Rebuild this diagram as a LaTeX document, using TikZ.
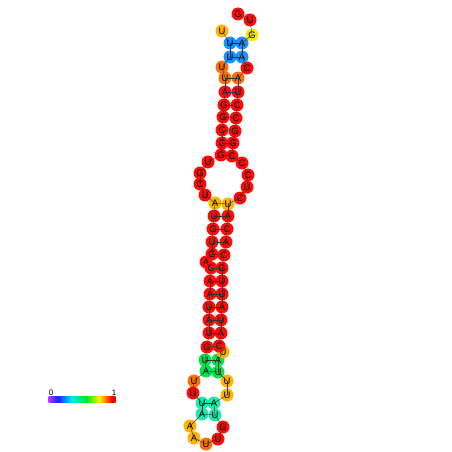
\documentclass[tikz,border=0pt]{standalone}
\usepackage{fontspec}
\setmainfont{Liberation Sans}
\definecolor{cred}{RGB}{255,12,8}
\definecolor{corange}{RGB}{255,112,0}
\definecolor{cyo}{RGB}{255,178,0}
\definecolor{cyellow}{RGB}{248,232,0}
\definecolor{cgreen}{RGB}{0,228,80}
\definecolor{cteal}{RGB}{32,232,168}
\definecolor{cblue}{RGB}{30,144,255}
\definecolor{bpurple}{RGB}{170,60,255}
\definecolor{bblue}{RGB}{30,30,255}
\definecolor{bcyan}{RGB}{0,230,255}
\definecolor{bgreen}{RGB}{0,230,40}
\definecolor{byellow}{RGB}{255,240,0}
\definecolor{bred}{RGB}{255,0,0}
\pgfdeclarehorizontalshading{rainbowbar}{100bp}{color(0bp)=(bpurple); color(25bp)=(bpurple); color(32bp)=(bblue); color(42bp)=(bcyan); color(53bp)=(bgreen); color(63bp)=(byellow); color(72bp)=(bred); color(100bp)=(bred)}
\tikzset{
  base/.style={circle, minimum size=13pt, inner sep=0pt, font=\fontsize{9.5}{10}\selectfont},
  bb/.style={draw=black!80, line width=0.4pt},
  lbl/.style={font=\fontsize{8}{9}\selectfont, inner sep=0pt}
}
\begin{document}
\begin{tikzpicture}[x=1pt,y=-1pt]
\fill[white] (0,0) rectangle (452,452);
\useasboundingbox (0,0) rectangle (452,452);
\foreach \n/\l/\x/\y/\c in {
1/U/222/31/cyo, 2/U/230/43/cblue, 3/U/230/57/cblue, 4/U/222/67/corange, 5/U/225/78/corange,
6/A/225/92/cred, 7/G/224/105/cred, 8/G/223/117/cred, 9/C/222/130/cred, 10/C/222/143/cred,
11/G/221/155/cred, 12/U/208/162/cred, 13/G/200/173/cred, 14/C/200/184/cred, 15/U/205/195/cred,
16/A/215/203/cyo, 17/U/214/216/cred, 18/G/213/229/cred, 19/U/212/242/cred, 20/G/212/254/cred,
21/A/206/262/cred, 22/C/211/268/cred, 23/A/210/281/cred, 24/A/210/294/cred, 25/U/209/307/cred,
26/A/209/320/cred, 27/U/209/333/cred, 28/G/207/347/cred, 29/U/205/360/cgreen, 30/A/206/371/cgreen,
31/U/194/381/corange, 32/U/193/393/cred, 33/U/202/403/cteal, 34/A/202/414/cteal, 35/A/190/426/cyo,
36/A/194/438/cyo, 37/U/206/444/corange, 38/U/218/439/cred, 39/G/223/427/cred, 40/U/215/415/cteal,
41/A/214/403/cteal, 42/U/227/395/cyo, 43/U/227/381/cyo, 44/U/218/372/cgreen, 45/A/218/360/cgreen,
46/U/223/352/cyo, 47/C/219/346/cred, 48/A/221/333/cred, 49/U/221/320/cred, 50/A/222/307/cred,
51/U/222/294/cred, 52/U/222/281/cred, 53/G/222/268/cred, 54/C/224/255/cred, 55/A/226/242/cred,
56/C/227/229/cred, 57/A/228/216/cred, 58/U/228/204/cyo, 59/C/240/198/cred, 60/U/247/187/cred,
61/C/248/175/cred, 62/C/242/163/cred, 63/C/232/156/cred, 64/G/233/143/cred, 65/G/235/131/cred,
66/C/236/118/cred, 67/C/237/105/cred, 68/U/238/92/cred, 69/A/238/78/corange, 70/C/247/68/cred,
71/A/242/57/cblue, 72/A/242/43/cblue, 73/G/252/35/cyellow, 74/U/250/20/cred, 75/G/238/14/cred}
{ \node[base, fill=\c] (n\n) at (\x,\y) {\l}; }
\foreach \a [evaluate=\a as \b using int(\a+1)] in {1,...,74}
{ \draw[bb] (n\a.center) -- (n\b.center); }
\foreach \a/\b in {2/72,3/71,5/69,6/68,7/67,8/66,9/65,10/64,11/63,16/58,17/57,18/56,19/55,20/54,22/53,23/52,24/51,25/50,26/49,27/48,28/47,29/45,30/44,33/41,34/40}
{ \draw[bb] (n\a.center) -- (n\b.center); }
% colour bar
\node[inner sep=0pt, minimum width=67pt, minimum height=6pt, shading=rainbowbar] (bar) at (82,399) {};
\node[lbl, anchor=south] (l0) at (51,396) {0};
\node[lbl, anchor=south] (l1) at (114,396) {1};
\end{tikzpicture}
\end{document}
